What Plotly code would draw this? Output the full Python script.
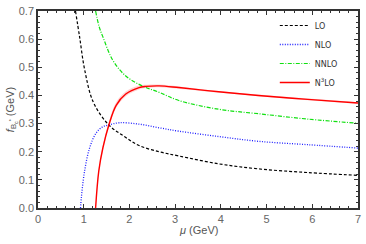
import plotly.graph_objects as go

# LO (black dashed)
lo_mu = [0.82, 0.91, 1.02, 1.21, 1.55, 1.89, 2.21, 2.65, 3.08, 3.95, 4.82, 5.9, 7.0]
lo_f = [0.700, 0.608, 0.492, 0.376, 0.295, 0.254, 0.222, 0.200, 0.185, 0.157, 0.139, 0.126, 0.116]

# NLO (blue dotted)
nlo_mu = [0.93, 0.95, 1.02, 1.13, 1.27, 1.42, 1.55, 1.78, 2.21, 2.65, 3.08, 3.95, 4.82, 5.9, 7.0]
nlo_f = [0.000, 0.040, 0.132, 0.214, 0.266, 0.289, 0.295, 0.303, 0.298, 0.285, 0.273, 0.254, 0.237, 0.225, 0.213]

# NNLO (green dash-dot)
nnlo_mu = [1.26, 1.34, 1.42, 1.63, 1.92, 2.28, 2.65, 3.08, 3.95, 4.82, 5.9, 7.0]
nnlo_f = [0.700, 0.643, 0.608, 0.527, 0.469, 0.434, 0.411, 0.382, 0.351, 0.335, 0.316, 0.301]

# N3LO (red solid) with uncertainty band
n3lo_mu = [1.26, 1.33, 1.42, 1.55, 1.71, 1.92, 2.21, 2.36, 2.65, 3.08, 3.95, 4.82, 5.9, 7.0]
n3lo_f = [0.000, 0.132, 0.214, 0.295, 0.365, 0.405, 0.428, 0.432, 0.434, 0.428, 0.413, 0.400, 0.386, 0.373]
n3lo_hi = [0.000, 0.140, 0.224, 0.306, 0.376, 0.414, 0.435, 0.438, 0.439, 0.432, 0.416, 0.403, 0.389, 0.376]
n3lo_lo = [0.000, 0.126, 0.206, 0.286, 0.356, 0.397, 0.421, 0.426, 0.429, 0.424, 0.410, 0.397, 0.383, 0.370]

x_ticks = [0, 1, 2, 3, 4, 5, 6, 7]
y_ticks = [0.0, 0.1, 0.2, 0.3, 0.4, 0.5, 0.6, 0.7]

fig = go.Figure()

fig.add_trace(go.Scatter(x=n3lo_mu, y=n3lo_hi, mode="lines", line=dict(width=0, shape="spline"),
                         showlegend=False, hoverinfo="skip"))
fig.add_trace(go.Scatter(x=n3lo_mu, y=n3lo_lo, mode="lines", line=dict(width=0, shape="spline"),
                         fill="tonexty", fillcolor="rgba(255,140,140,0.4)",
                         showlegend=False, hoverinfo="skip"))

fig.add_trace(go.Scatter(x=lo_mu, y=lo_f, mode="lines", name="LO",
                         line=dict(color="black", width=1.2, dash="3px,2px", shape="spline")))
fig.add_trace(go.Scatter(x=nlo_mu, y=nlo_f, mode="lines", name="NLO",
                         line=dict(color="#2020ff", width=1.3, dash="1px,1.5px", shape="spline")))
fig.add_trace(go.Scatter(x=nnlo_mu, y=nnlo_f, mode="lines", name="NNLO",
                         line=dict(color="#10e010", width=1.2, dash="4px,1.5px,1px,1.5px", shape="spline")))
fig.add_trace(go.Scatter(x=n3lo_mu, y=n3lo_f, mode="lines", name="N<sup>3</sup>LO",
                         line=dict(color="red", width=1.4, shape="spline")))

axis_common = dict(
    showline=True, linecolor="#333", linewidth=1.5, mirror="ticks",
    ticks="inside", ticklen=4, tickcolor="#333", tickwidth=1,
    showgrid=False, zeroline=False,
    tickfont=dict(family="Liberation Sans, Arial", size=11, color="#666"),
)

fig.update_xaxes(range=[0, 7], tickvals=x_ticks, ticktext=[str(v) for v in x_ticks],
                 minor=dict(dtick=0.2, ticks="inside", ticklen=2, tickcolor="#333", showgrid=False),
                 **axis_common)
fig.update_yaxes(range=[0, 0.7], tickvals=y_ticks, ticktext=[f"{v:.1f}" for v in y_ticks],
                 minor=dict(dtick=0.02, ticks="inside", ticklen=2, tickcolor="#333", showgrid=False),
                 title=dict(text="<i>f</i><sub>B<sub>c</sub><sup>*</sup></sub> (GeV)",
                            font=dict(family="Liberation Sans, Arial", size=11, color="#555"), standoff=2),
                 **axis_common)

fig.add_annotation(text="<i>μ</i> (GeV)", xref="paper", yref="paper", x=0.5, y=-0.11,
                   xanchor="center", yanchor="middle", showarrow=False,
                   font=dict(family="Liberation Sans, Arial", size=11, color="#555"))

fig.update_layout(
    width=366, height=244,
    margin=dict(l=38, r=5, t=7, b=36),
    paper_bgcolor="white", plot_bgcolor="white",
    legend=dict(x=0.74, y=1.0, xanchor="left", yanchor="top", bgcolor="rgba(0,0,0,0)",
                font=dict(family="DejaVu Sans", size=8, color="#333"), tracegroupgap=0,
                traceorder="normal", itemwidth=30),
)

fig.write_html("out.html", config={"displayModeBar": False},
               post_script="document.body.style.margin='0';document.body.style.padding='0';")
